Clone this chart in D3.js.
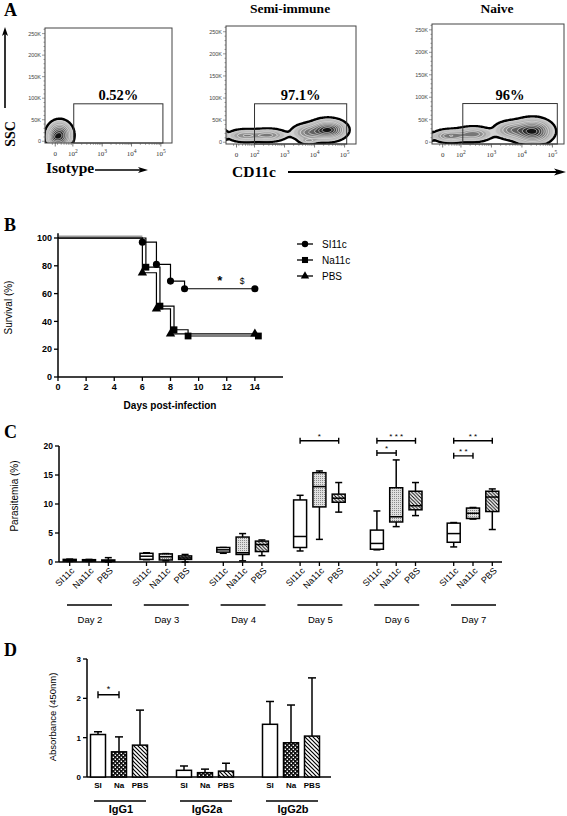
<!DOCTYPE html>
<html><head><meta charset="utf-8">
<script src="https://cdn.jsdelivr.net/npm/d3@7"></script>
<style>body{margin:0;background:#fff}svg{display:block;background:#fff}</style>
</head><body><svg id="c" width="567" height="816"></svg>
<script>
// ================= DATA =================
// Panel A (flow cytometry)
const flowTitles = ["", "Semi-immune", "Naive"];
const flowGatePct = ["0.52%", "97.1%", "96%"];
const flowYTicks = [0, 50, 100, 150, 200, 250];           // SSC, thousands
const flowYTickLabels = ["0", "50K", "100K", "150K", "200K", "250K"];
const flowXTickPos = [1.4, 2, 3, 4, 5];                    // display units (log decades)
const flowXTickBase = ["0", "10", "10", "10", "10"];
const flowXTickExp = ["", "2", "3", "4", "5"];
const flowGate = [[2.03, 5.07, 87], [2.0, 5.07, 87], [2.06, 5.16, 86]]; // [uStart,uEnd,topK]
// density clusters: [u, SSC(K), sd u, sd SSC(K), weight]
const isotypeClusters = [[1.55, 14, 0.2, 15, 1.0], [1.35, 8, 0.12, 8, 0.3]];
const semiClusters = [[4.45, 28, 0.28, 11, 1.0], [3.85, 22, 0.3, 10, 0.4], [2.45, 16, 0.3, 7, 0.38],
                      [1.7, 15, 0.3, 7, 0.34], [1.0, 16, 0.06, 6, 0.2], [3.8, 3, 0.15, 3, 0.22]];
const naiveClusters = [[4.35, 24, 0.3, 13, 1.0], [3.7, 27, 0.3, 10, 0.4], [2.4, 18, 0.3, 8, 0.42],
                       [1.65, 14, 0.28, 7, 0.45], [1.0, 12, 0.06, 5, 0.2]];

// Panel B (survival)
const survSeries = ["SI11c", "Na11c", "PBS"];
const survDaysSI = [0, 6, 7, 8, 9, 14];
const survValsSI = [100, 97, 81, 69, 63.5, 63.5];
const survDaysNa = [0, 6.25, 7.25, 8.25, 9.25, 14.25];
const survValsNa = [100, 79, 51, 34, 29.5, 29.5];
const survDaysPBS = [0, 6, 7, 8, 14];
const survValsPBS = [100, 75, 49, 31, 31];
const survXTicks = [0, 2, 4, 6, 8, 10, 12, 14];
const survYTicks = [0, 20, 40, 60, 80, 100];

// Panel C (parasitemia box plots) [min, q1, median, q3, max]
const days = ["Day 2", "Day 3", "Day 4", "Day 5", "Day 6", "Day 7"];
const boxGroups = ["SI11c", "Na11c", "PBS"];
const boxSI = [[0.1, 0.15, 0.3, 0.45, 0.5], [0.4, 0.45, 1.0, 1.5, 1.6], [1.5, 1.7, 2.1, 2.5, 2.5],
               [1.9, 2.5, 4.4, 10.7, 11.5], [2.1, 2.2, 3.2, 5.5, 8.8], [2.6, 3.4, 4.9, 6.7, 6.8]];
const boxNa = [[0.1, 0.15, 0.25, 0.4, 0.45], [0.2, 0.35, 0.9, 1.4, 1.45], [0.2, 1.3, 1.6, 4.3, 4.9],
               [3.9, 9.5, 13.0, 15.4, 15.7], [6.1, 6.9, 7.8, 12.8, 17.6], [7.4, 7.5, 8.4, 9.3, 9.4]];
const boxPBS = [[0.0, 0.1, 0.2, 0.35, 0.75], [0.0, 0.45, 0.7, 1.05, 1.3], [1.1, 1.8, 3.0, 3.6, 3.8],
                [8.6, 10.3, 11.0, 11.7, 13.7], [8.0, 9.0, 9.7, 12.2, 13.7], [5.6, 8.7, 11.2, 12.2, 12.6]];
const paraYTicks = [0, 5, 10, 15, 20];
const sigC = [
  {day: "Day 5", a: "SI11c", b: "PBS", y: 20.9, label: "*"},
  {day: "Day 6", a: "SI11c", b: "PBS", y: 20.9, label: "* * *"},
  {day: "Day 6", a: "SI11c", b: "Na11c", y: 18.8, label: "*"},
  {day: "Day 7", a: "SI11c", b: "PBS", y: 20.9, label: "* *"},
  {day: "Day 7", a: "SI11c", b: "Na11c", y: 18.3, label: "* *"}
];

// Panel D (antibody absorbance)
const igGroups = ["IgG1", "IgG2a", "IgG2b"];
const igSeries = ["SI", "Na", "PBS"];
const igMeanSI = [1.08, 0.17, 1.34];
const igMeanNa = [0.64, 0.11, 0.87];
const igMeanPBS = [0.81, 0.15, 1.04];
const igErrSI = [0.07, 0.11, 0.58];
const igErrNa = [0.38, 0.09, 0.96];
const igErrPBS = [0.89, 0.20, 1.48];
const absYTicks = [0, 1, 2, 3];
const sigD = [{group: "IgG1", a: "SI", b: "Na", y: 2.09, label: "*"}];

// ================= DRAW =================
const svg = d3.select("#c");
const SERIF = "'Liberation Serif','Times New Roman',serif";
const SANS = "'Liberation Sans',Arial,Helvetica,sans-serif";

const defs = svg.append("defs");
const pSt = defs.append("pattern").attr("id", "stip").attr("patternUnits", "userSpaceOnUse").attr("width", 2).attr("height", 2);
pSt.append("rect").attr("width", 2).attr("height", 2).attr("fill", "#e0e0e0");
pSt.append("rect").attr("width", 1).attr("height", 1).attr("fill", "#8a8a8a");
const pH = defs.append("pattern").attr("id", "hatchC").attr("patternUnits", "userSpaceOnUse").attr("width", 3.5).attr("height", 3.5);
pH.append("rect").attr("width", 3.5).attr("height", 3.5).attr("fill", "#fff");
pH.append("path").attr("d", "M-1,-1L4.5,4.5M-1,2.5L1,4.5M2.5,-1L4.5,1").attr("stroke", "#000").attr("stroke-width", 1);
const pH2 = defs.append("pattern").attr("id", "hatchD").attr("patternUnits", "userSpaceOnUse").attr("width", 4).attr("height", 4);
pH2.append("rect").attr("width", 4).attr("height", 4).attr("fill", "#fff");
pH2.append("path").attr("d", "M-1,-1L5,5M-1,3L1,5M3,-1L5,1").attr("stroke", "#000").attr("stroke-width", 1.2);
const pCk = defs.append("pattern").attr("id", "check").attr("patternUnits", "userSpaceOnUse").attr("width", 4).attr("height", 4);
pCk.append("rect").attr("width", 4).attr("height", 4).attr("fill", "#111");
pCk.append("rect").attr("x", 0.6).attr("y", 0.6).attr("width", 1.4).attr("height", 1.4).attr("fill", "#fff");
pCk.append("rect").attr("x", 2.6).attr("y", 2.6).attr("width", 1.4).attr("height", 1.4).attr("fill", "#fff");

function arrowHead(g, x, y, dir, len, half) {
  const p = dir === "up"
    ? `M${x},${y}L${x - half},${y + len}L${x},${y + len * 0.75}L${x + half},${y + len}Z`
    : `M${x},${y}L${x - len},${y - half}L${x - len * 0.75},${y}L${x - len},${y + half}Z`;
  g.append("path").attr("d", p).attr("fill", "#000");
}

// ---------- Panel A ----------
const flowBoxes = [
  {x0: 45, x1: 172, y0: 28, y1: 143, clusters: isotypeClusters},
  {x0: 226, x1: 356, y0: 26, y1: 144, clusters: semiClusters},
  {x0: 432, x1: 564, y0: 24, y1: 144, clusters: naiveClusters}
];
flowBoxes.forEach((cfg, k) => {
  const g = svg.append("g");
  const xs = d3.scaleLinear([1.05, 5.38], [cfg.x0, cfg.x1]);
  const ys = d3.scaleLinear([-4, 263], [cfg.y1, cfg.y0]);
  const nx = Math.round(cfg.x1 - cfg.x0), ny = Math.round(cfg.y1 - cfg.y0);
  const vals = new Float64Array(nx * ny);
  let mx = 0;
  for (let j = 0; j < ny; j++) for (let i = 0; i < nx; i++) {
    const u = xs.invert(cfg.x0 + i + 0.5), v = ys.invert(cfg.y0 + j + 0.5);
    let s = 0;
    for (const [cu, cv, su, sv, w] of cfg.clusters) {
      const a = (u - cu) / su, b = (v - cv) / sv;
      s += w * Math.exp(-0.5 * (a * a + b * b));
    }
    vals[j * nx + i] = s; if (s > mx) mx = s;
  }
  const fr = [0.035, 0.08, 0.14, 0.22, 0.32, 0.44, 0.58, 0.73, 0.88];
  const cont = d3.contours().size([nx, ny]).thresholds(fr.map(f => f * mx))(vals);
  const clipId = "clip" + k;
  defs.append("clipPath").attr("id", clipId).append("rect")
    .attr("x", 0).attr("y", 0).attr("width", nx).attr("height", ny);
  const cg = g.append("g").attr("transform", `translate(${cfg.x0},${cfg.y0})`).attr("clip-path", `url(#${clipId})`);
  const n = cont.length;
  cg.selectAll("path").data(cont).join("path")
    .attr("d", d3.geoPath())
    .attr("fill", (d, i) => d3.interpolateGreys(0.28 + 0.66 * i / (n - 1)))
    .attr("stroke", (d, i) => i === 0 ? "#000" : (i < 3 ? "#ccc" : "#fff"))
    .attr("stroke-width", (d, i) => i === 0 ? 2.4 : 0.6);

  g.append("rect").attr("x", cfg.x0).attr("y", cfg.y0).attr("width", cfg.x1 - cfg.x0).attr("height", cfg.y1 - cfg.y0)
    .attr("fill", "none").attr("stroke", "#444").attr("stroke-width", 1);
  const gt = flowGate[k];
  g.append("rect").attr("x", xs(gt[0])).attr("y", ys(gt[2])).attr("width", xs(gt[1]) - xs(gt[0]))
    .attr("height", cfg.y1 - ys(gt[2])).attr("fill", "none").attr("stroke", "#333").attr("stroke-width", 1);
  g.append("text").attr("x", (xs(gt[0]) + xs(gt[1])) / 2).attr("y", ys(gt[2]) - 4)
    .attr("text-anchor", "middle").attr("font-family", SERIF).attr("font-weight", "bold").attr("font-size", 14.5)
    .text(flowGatePct[k]);
  for (let v = 0; v <= 260; v += 10) {
    const major = v % 50 === 0;
    g.append("line").attr("x1", cfg.x0).attr("x2", cfg.x0 - (major ? 3 : 1.5)).attr("y1", ys(v)).attr("y2", ys(v))
      .attr("stroke", "#555").attr("stroke-width", 0.6);
  }
  flowYTicks.forEach((v, i) => {
    g.append("text").attr("x", cfg.x0 - 4).attr("y", ys(v) + 2).attr("text-anchor", "end")
      .attr("font-family", SANS).attr("font-size", 5.5).attr("fill", "#444").text(flowYTickLabels[i]);
  });
  const minor = [];
  for (let e = 1; e <= 4; e++) for (let m = 2; m <= 9; m++) minor.push(e + Math.log10(m));
  minor.filter(u => u > 1.1).forEach(u => {
    g.append("line").attr("x1", xs(u)).attr("x2", xs(u)).attr("y1", cfg.y1).attr("y2", cfg.y1 + 1.8)
      .attr("stroke", "#555").attr("stroke-width", 0.6);
  });
  flowXTickPos.forEach((u, i) => {
    g.append("line").attr("x1", xs(u)).attr("x2", xs(u)).attr("y1", cfg.y1).attr("y2", cfg.y1 + 3.5)
      .attr("stroke", "#444").attr("stroke-width", 0.7);
    const t = g.append("text").attr("x", xs(u)).attr("y", cfg.y1 + 13).attr("text-anchor", "middle")
      .attr("font-family", SERIF).attr("font-size", 7).attr("fill", "#333").text(flowXTickBase[i]);
    if (flowXTickExp[i]) t.append("tspan").attr("dy", -3).attr("font-size", 5.5).text(flowXTickExp[i]);
  });
  if (flowTitles[k]) {
    g.append("text").attr("x", (cfg.x0 + cfg.x1) / 2 - 1).attr("y", 13).attr("text-anchor", "middle")
      .attr("font-family", SERIF).attr("font-weight", "bold").attr("font-size", 13.5).text(flowTitles[k]);
  }
});
const ga = svg.append("g");
ga.append("text").attr("x", 4).attr("y", 16).attr("font-family", SERIF).attr("font-weight", "bold").attr("font-size", 18).text("A");
ga.append("line").attr("x1", 5).attr("x2", 5).attr("y1", 108).attr("y2", 34).attr("stroke", "#000").attr("stroke-width", 1.6);
arrowHead(ga, 5, 27, "up", 9, 3);
ga.append("text").attr("transform", "translate(15,134) rotate(-90)").attr("text-anchor", "middle")
  .attr("font-family", SERIF).attr("font-weight", "bold").attr("font-size", 14).text("SSC");
ga.append("text").attr("x", 46).attr("y", 173).attr("font-family", SERIF).attr("font-weight", "bold").attr("font-size", 15.5).text("Isotype");
ga.append("line").attr("x1", 95).attr("x2", 141).attr("y1", 170).attr("y2", 170).attr("stroke", "#000").attr("stroke-width", 1.6);
arrowHead(ga, 148, 170, "right", 10, 3);
ga.append("text").attr("x", 232).attr("y", 177).attr("font-family", SERIF).attr("font-weight", "bold").attr("font-size", 15.5).text("CD11c");
ga.append("line").attr("x1", 288).attr("x2", 558).attr("y1", 172).attr("y2", 172).attr("stroke", "#000").attr("stroke-width", 1.8);
arrowHead(ga, 566, 172, "right", 12, 3.5);

// ---------- Panel B ----------
const gb = svg.append("g");
const bx = d3.scaleLinear([0, 16], [58, 283]);
const by = d3.scaleLinear([0, 100], [377, 238]);
gb.append("text").attr("x", 4).attr("y", 231).attr("font-family", SERIF).attr("font-weight", "bold").attr("font-size", 18).text("B");
gb.append("line").attr("x1", bx(0)).attr("x2", bx(0)).attr("y1", by(0)).attr("y2", by(103.5)).attr("stroke", "#000").attr("stroke-width", 1.5);
gb.append("line").attr("x1", bx(0)).attr("x2", bx(16)).attr("y1", by(0)).attr("y2", by(0)).attr("stroke", "#000").attr("stroke-width", 1.5);
survYTicks.forEach(v => {
  gb.append("line").attr("x1", bx(0)).attr("x2", bx(0) - 4).attr("y1", by(v)).attr("y2", by(v)).attr("stroke", "#000").attr("stroke-width", 1.3);
  gb.append("text").attr("x", bx(0) - 6).attr("y", by(v) + 3.2).attr("text-anchor", "end")
    .attr("font-family", SANS).attr("font-weight", "bold").attr("font-size", 9).text(v);
});
survXTicks.forEach(v => {
  gb.append("line").attr("x1", bx(v)).attr("x2", bx(v)).attr("y1", by(0)).attr("y2", by(0) + 4).attr("stroke", "#000").attr("stroke-width", 1.3);
  gb.append("text").attr("x", bx(v)).attr("y", by(0) + 13).attr("text-anchor", "middle")
    .attr("font-family", SANS).attr("font-weight", "bold").attr("font-size", 9).text(v);
});
gb.append("text").attr("transform", `translate(12,${(by(0) + by(100)) / 2}) rotate(-90)`).attr("text-anchor", "middle")
  .attr("font-family", SANS).attr("font-size", 10).text("Survival (%)");
gb.append("text").attr("x", 170).attr("y", 409).attr("text-anchor", "middle")
  .attr("font-family", SANS).attr("font-weight", "bold").attr("font-size", 10).text("Days post-infection");

const survData = [
  {name: "SI11c", days: survDaysSI, vals: survValsSI, sym: d3.symbolCircle, size: 40},
  {name: "Na11c", days: survDaysNa, vals: survValsNa, sym: d3.symbolSquare, size: 46},
  {name: "PBS", days: survDaysPBS, vals: survValsPBS, sym: d3.symbolTriangle, size: 38}
];
const stepLine = d3.line().x(d => bx(d[0])).y(d => by(d[1])).curve(d3.curveStepAfter);
survData.slice().reverse().forEach(s => {
  const pts = s.days.map((d, i) => [d, s.vals[i]]);
  gb.append("path").attr("d", stepLine(pts)).attr("fill", "none").attr("stroke", "#000").attr("stroke-width", 1.2);
  pts.slice(1).forEach(p => {
    gb.append("path").attr("d", d3.symbol(s.sym, s.size)()).attr("transform", `translate(${bx(p[0])},${by(p[1])})`).attr("fill", "#000");
  });
});
gb.append("line").attr("x1", bx(0) + 1).attr("x2", bx(6)).attr("y1", by(100) - 1.6).attr("y2", by(100) - 1.6)
  .attr("stroke", "#999").attr("stroke-width", 1.6);
gb.append("text").attr("x", bx(11.5)).attr("y", by(66)).attr("text-anchor", "middle").attr("font-family", SANS)
  .attr("font-weight", "bold").attr("font-size", 13).text("*");
gb.append("text").attr("x", bx(13.1)).attr("y", by(67)).attr("text-anchor", "middle").attr("font-family", SANS)
  .attr("font-size", 8.5).text("$");
survData.forEach((s, i) => {
  const y = 244 + i * 16;
  gb.append("line").attr("x1", 297).attr("x2", 313).attr("y1", y).attr("y2", y).attr("stroke", "#000").attr("stroke-width", 1.3);
  gb.append("path").attr("d", d3.symbol(s.sym, s.size * 0.8)()).attr("transform", `translate(305,${y})`).attr("fill", "#000");
  gb.append("text").attr("x", 322).attr("y", y + 3.5).attr("font-family", SANS).attr("font-size", 10).text(s.name);
});

// ---------- Panel C ----------
const gc = svg.append("g");
const cxG = d3.scalePoint(days, [89, 473]);
const cxS = d3.scalePoint(boxGroups, [-19.3, 19.3]);
const cy = d3.scaleLinear([0, 20], [562, 446]);
gc.append("text").attr("x", 4).attr("y", 438).attr("font-family", SERIF).attr("font-weight", "bold").attr("font-size", 18).text("C");
gc.append("line").attr("x1", 59).attr("x2", 59).attr("y1", cy(0)).attr("y2", cy(20)).attr("stroke", "#000").attr("stroke-width", 1.5);
gc.append("line").attr("x1", 59).attr("x2", 502).attr("y1", cy(0)).attr("y2", cy(0)).attr("stroke", "#000").attr("stroke-width", 1.5);
paraYTicks.forEach(v => {
  gc.append("line").attr("x1", 59).attr("x2", 55).attr("y1", cy(v)).attr("y2", cy(v)).attr("stroke", "#000").attr("stroke-width", 1.3);
  gc.append("text").attr("x", 53).attr("y", cy(v) + 3.2).attr("text-anchor", "end").attr("font-family", SANS)
    .attr("font-weight", "bold").attr("font-size", 8.5).text(v);
});
gc.append("text").attr("transform", `translate(18,496) rotate(-90)`).attr("text-anchor", "middle")
  .attr("font-family", SANS).attr("font-size", 10).text("Parasitemia (%)");
const boxSets = {SI11c: boxSI, Na11c: boxNa, PBS: boxPBS};
const boxFill = {SI11c: "#fff", Na11c: "url(#stip)", PBS: "url(#hatchC)"};
const bw = 13, cap = 7;
days.forEach((day, di) => {
  boxGroups.forEach(grp => {
    const [mn, q1, md, q3, mxv] = boxSets[grp][di];
    const x = cxG(day) + cxS(grp);
    gc.append("line").attr("x1", x).attr("x2", x).attr("y1", cy(0)).attr("y2", cy(0) + 4).attr("stroke", "#000").attr("stroke-width", 1.3);
    gc.append("text").attr("transform", `translate(${x + 3},${cy(0) + 7}) rotate(-45)`).attr("text-anchor", "end")
      .attr("dy", "0.35em").attr("font-family", SANS).attr("font-size", 9).text(grp);
    const L = (x1, y1, x2, y2) => gc.append("line").attr("x1", x1).attr("y1", y1).attr("x2", x2).attr("y2", y2)
      .attr("stroke", "#000").attr("stroke-width", 1.5);
    L(x, cy(mxv), x, cy(q3)); L(x, cy(q1), x, cy(mn));
    L(x - cap / 2, cy(mxv), x + cap / 2, cy(mxv)); L(x - cap / 2, cy(mn), x + cap / 2, cy(mn));
    gc.append("rect").attr("x", x - bw / 2).attr("y", cy(q3)).attr("width", bw).attr("height", Math.max(cy(q1) - cy(q3), 1))
      .attr("fill", boxFill[grp]).attr("stroke", "#000").attr("stroke-width", 1.5);
    L(x - bw / 2, cy(md), x + bw / 2, cy(md));
  });
  const cx = cxG(day);
  gc.append("line").attr("x1", cx - 22).attr("x2", cx + 23).attr("y1", 605).attr("y2", 605).attr("stroke", "#000").attr("stroke-width", 1.5);
  gc.append("text").attr("x", cx + 1).attr("y", 623).attr("text-anchor", "middle").attr("font-family", SANS)
    .attr("font-size", 9.5).text(day);
});
sigC.forEach(s => {
  const x1 = cxG(s.day) + cxS(s.a), x2 = cxG(s.day) + cxS(s.b), y = cy(s.y);
  gc.append("path").attr("d", `M${x1},${y - 3}V${y + 3}M${x1},${y}H${x2}M${x2},${y - 3}V${y + 3}`)
    .attr("stroke", "#000").attr("stroke-width", 1.4).attr("fill", "none");
  gc.append("text").attr("x", (x1 + x2) / 2).attr("y", y - 2).attr("text-anchor", "middle").attr("font-family", SANS)
    .attr("font-size", 8).text(s.label);
});

// ---------- Panel D ----------
const gd = svg.append("g");
const dxG = d3.scalePoint(igGroups, [119, 291]);
const dxS = d3.scalePoint(igSeries, [-21, 21]);
const dy = d3.scaleLinear([0, 3], [777, 659]);
gd.append("text").attr("x", 4).attr("y", 656).attr("font-family", SERIF).attr("font-weight", "bold").attr("font-size", 18).text("D");
gd.append("line").attr("x1", 87).attr("x2", 87).attr("y1", dy(0)).attr("y2", dy(3)).attr("stroke", "#000").attr("stroke-width", 1.5);
gd.append("line").attr("x1", 87).attr("x2", 331).attr("y1", dy(0)).attr("y2", dy(0)).attr("stroke", "#000").attr("stroke-width", 1.5);
absYTicks.forEach(v => {
  gd.append("line").attr("x1", 87).attr("x2", 83).attr("y1", dy(v)).attr("y2", dy(v)).attr("stroke", "#000").attr("stroke-width", 1.3);
  gd.append("text").attr("x", 81).attr("y", dy(v) + 3).attr("text-anchor", "end").attr("font-family", SANS)
    .attr("font-weight", "bold").attr("font-size", 8).text(v);
});
gd.append("text").attr("transform", `translate(56,717) rotate(-90)`).attr("text-anchor", "middle")
  .attr("font-family", SANS).attr("font-size", 9.5).text("Absorbance (450nm)");
const igMeans = {SI: igMeanSI, Na: igMeanNa, PBS: igMeanPBS};
const igErrs = {SI: igErrSI, Na: igErrNa, PBS: igErrPBS};
const igFill = {SI: "#fff", Na: "url(#check)", PBS: "url(#hatchD)"};
const dbw = 15;
igGroups.forEach((grp, gi) => {
  igSeries.forEach(s => {
    const x = dxG(grp) + dxS(s);
    const m = igMeans[s][gi], e = igErrs[s][gi];
    gd.append("line").attr("x1", x).attr("x2", x).attr("y1", dy(m)).attr("y2", dy(m + e)).attr("stroke", "#000").attr("stroke-width", 1.5);
    gd.append("line").attr("x1", x - 4).attr("x2", x + 4).attr("y1", dy(m + e)).attr("y2", dy(m + e)).attr("stroke", "#000").attr("stroke-width", 1.5);
    gd.append("rect").attr("x", x - dbw / 2).attr("y", dy(m)).attr("width", dbw).attr("height", dy(0) - dy(m))
      .attr("fill", igFill[s]).attr("stroke", "#000").attr("stroke-width", 1.5);
    gd.append("text").attr("x", x).attr("y", 788).attr("text-anchor", "middle").attr("font-family", SANS)
      .attr("font-weight", "bold").attr("font-size", 8).text(s);
  });
  const cx = dxG(grp);
  gd.append("line").attr("x1", cx - 25).attr("x2", cx + 27).attr("y1", 801).attr("y2", 801).attr("stroke", "#000").attr("stroke-width", 1.3);
  gd.append("text").attr("x", cx + 2).attr("y", 813).attr("text-anchor", "middle").attr("font-family", SANS)
    .attr("font-weight", "bold").attr("font-size", 11).text(grp);
});
sigD.forEach(s => {
  const x1 = dxG(s.group) + dxS(s.a), x2 = dxG(s.group) + dxS(s.b), y = dy(s.y);
  gd.append("path").attr("d", `M${x1},${y - 3.5}V${y + 3.5}M${x1},${y}H${x2}M${x2},${y - 3.5}V${y + 3.5}`)
    .attr("stroke", "#000").attr("stroke-width", 1.4).attr("fill", "none");
  gd.append("text").attr("x", (x1 + x2) / 2).attr("y", y - 3).attr("text-anchor", "middle").attr("font-family", SANS)
    .attr("font-size", 9).text(s.label);
});
</script></body></html>
